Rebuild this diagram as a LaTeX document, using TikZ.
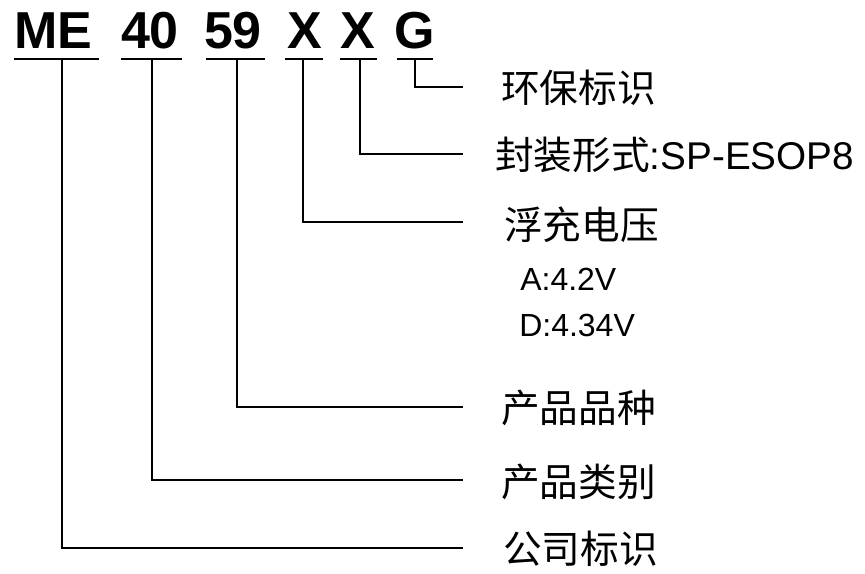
\documentclass[tikz,border=0pt]{standalone}
\usepackage{fontspec}
\setmainfont{Liberation Sans}
\newfontfamily\cjk{Noto Sans CJK SC}
\begin{document}
\begin{tikzpicture}[x=0.75pt,y=-0.75pt,
  code/.style={font=\fontsize{39}{39}\selectfont\bfseries, inner sep=0pt, anchor=base},
  lab/.style={font=\fontsize{29}{30}\selectfont\cjk, inner sep=0pt, anchor=west},
  sub/.style={font=\fontsize{24}{26}\selectfont, inner sep=0pt, anchor=west},
  wire/.style={line width=2.2pt},
  uline/.style={line width=2.2pt}]
\useasboundingbox (0,0) rectangle (865,574);
% code parts
\node[code] (me) at (53,49) {ME};
\node[code] (n40) at (150,49) {40};
\node[code] (n59) at (233,49) {59};
\node[code] (x1) at (305,49) {X};
\node[code] (x2) at (358,49) {X};
\node[code] (g) at (415,49) {G};
% underlines
\draw[uline] (14,59) -- (99,59);
\draw[uline] (121,59) -- (182,59);
\draw[uline] (206,59) -- (265,59);
\draw[uline] (285,59) -- (323,59);
\draw[uline] (340,59) -- (377,59);
\draw[uline] (397,59) -- (433,59);
% connector starts
\coordinate (meT) at (62,59);
\coordinate (n40T) at (152,59);
\coordinate (n59T) at (237,59);
\coordinate (x1T) at (303,59);
\coordinate (x2T) at (360,59);
\coordinate (gT) at (415,59);
% connector ends
\coordinate (gE) at (463,87);
\coordinate (x2E) at (463,154);
\coordinate (x1E) at (463,222);
\coordinate (n59E) at (463,407);
\coordinate (n40E) at (463,480);
\coordinate (meE) at (463,548);
% labels
\node[lab] (lg) at (501,88) {环保标识};
\node[lab] (lx2) at (495,155) {封装形式\rmfamily\fontsize{29}{30}\selectfont:SP-ESOP8};
\node[lab] (lx1) at (504,225) {浮充电压};
\node[sub] (la) at (520,279) {A:4.2V};
\node[sub] (ld) at (519,325) {D:4.34V};
\node[lab] (l59) at (501,408) {产品品种};
\node[lab] (l40) at (501,482) {产品类别};
\node[lab] (lme) at (503,549) {公司标识};
% connectors
\draw[wire] (gT) |- (gE);
\draw[wire] (x2T) |- (x2E);
\draw[wire] (x1T) |- (x1E);
\draw[wire] (n59T) |- (n59E);
\draw[wire] (n40T) |- (n40E);
\draw[wire] (meT) |- (meE);
\end{tikzpicture}
\end{document}
